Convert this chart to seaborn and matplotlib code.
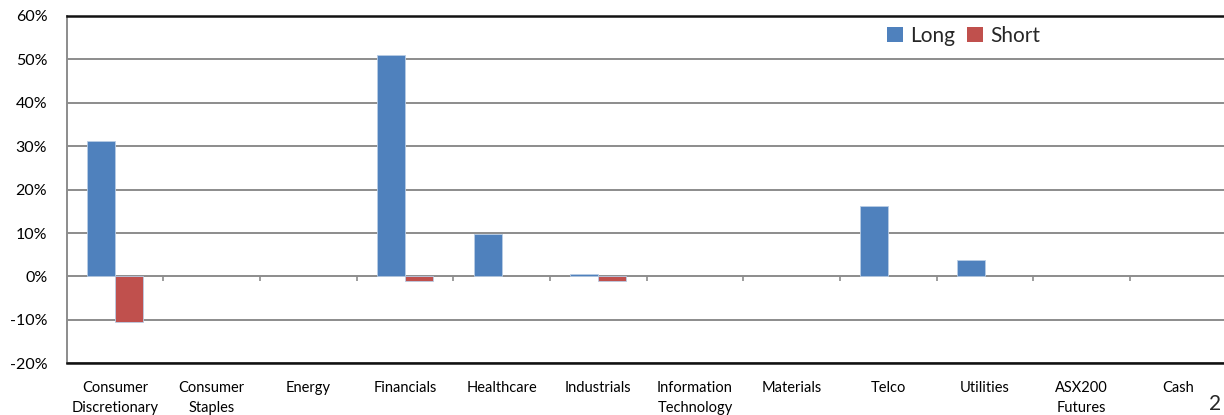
import matplotlib
matplotlib.use("Agg")
import matplotlib.pyplot as plt
import seaborn as sns
import pandas as pd
import numpy as np
from matplotlib.ticker import FuncFormatter, FixedLocator
from matplotlib.patches import Patch

categories = ["Consumer\nDiscretionary", "Consumer\nStaples", "Energy", "Financials",
              "Healthcare", "Industrials", "Information\nTechnology", "Materials",
              "Telco", "Utilities", "ASX200\nFutures", "Cash"]
long_vals = [31.3, 0.0, 0.0, 51.0, 9.8, 0.6, 0.0, 0.0, 16.3, 3.8, 0.0, 0.0]
short_vals = [-10.4, 0.0, 0.0, -1.0, 0.0, -1.0, 0.0, 0.0, 0.0, 0.0, 0.0, 0.0]
series = ["Long", "Short"]
colors = ["#4F81BD", "#C0504D"]
yticks = [-20, -10, 0, 10, 20, 30, 40, 50, 60]

df = pd.DataFrame({
    "Sector": categories * 2,
    "Value": long_vals + short_vals,
    "Series": [series[0]] * len(categories) + [series[1]] * len(categories),
})

sns.set_style("white")
plt.rcParams["font.family"] = ["Lato", "DejaVu Sans"]

fig = plt.figure(figsize=(12.24, 4.15), dpi=100)
ax = fig.add_axes([66.7 / 1224, 1 - 363.3 / 415, (1226.7 - 66.7) / 1224, (363.3 - 16) / 415])

sns.barplot(data=df, x="Sector", y="Value", hue="Series", order=categories,
            hue_order=series, palette=colors, width=0.58, gap=0,
            edgecolor="#B9CDE5", linewidth=0.6, saturation=1, ax=ax, zorder=3,
            legend=False)
for bar in ax.patches:
    bar.set_zorder(3)
    if abs(bar.get_height()) < 1e-9:
        bar.set_linewidth(0)

ax.set_ylim(-20, 60)
ax.set_xlim(-0.5, len(categories) - 0.5)
ax.yaxis.set_major_locator(FixedLocator(yticks))
ax.yaxis.set_major_formatter(FuncFormatter(lambda v, p: f"{int(v)}%"))
ax.grid(axis="y", color="#8C8C8C", linewidth=1.4, zorder=0)
ax.set_axisbelow(True)

for s in ["top", "bottom"]:
    ax.spines[s].set_visible(True)
    ax.spines[s].set_color("#111111")
    ax.spines[s].set_linewidth(1.8)
ax.spines["left"].set_visible(True)
ax.spines["left"].set_color("#8C8C8C")
ax.spines["left"].set_linewidth(1.4)
ax.spines["right"].set_visible(False)

# zero line tick marks at category boundaries
bounds = np.arange(len(categories) - 1) + 0.5
ax.vlines(bounds, -1.1, 0, color="#8C8C8C", linewidth=1.2, zorder=2)

ax.tick_params(axis="y", length=0, pad=14, labelsize=11.5, colors="#000000")
ax.tick_params(axis="x", length=0, pad=13, labelsize=10.5, colors="#000000")
for t in ax.get_xticklabels():
    t.set_linespacing(1.55)
    t.set_verticalalignment("top")

ax.set_xlabel("")
ax.set_ylabel("")

handles = [Patch(facecolor=c, edgecolor="none", label=s) for s, c in zip(series, colors)]
leg = ax.legend(handles=handles, loc="upper left", bbox_to_anchor=(0.70, 0.995), ncol=2,
                frameon=False, fontsize=15, handlelength=0.75, handleheight=0.75,
                handletextpad=0.35, columnspacing=0.6, borderaxespad=0)

fig.text(1221 / 1224, 1 / 415, "2", fontsize=15, ha="right", va="bottom")

fig.savefig("out.png", dpi=100)
